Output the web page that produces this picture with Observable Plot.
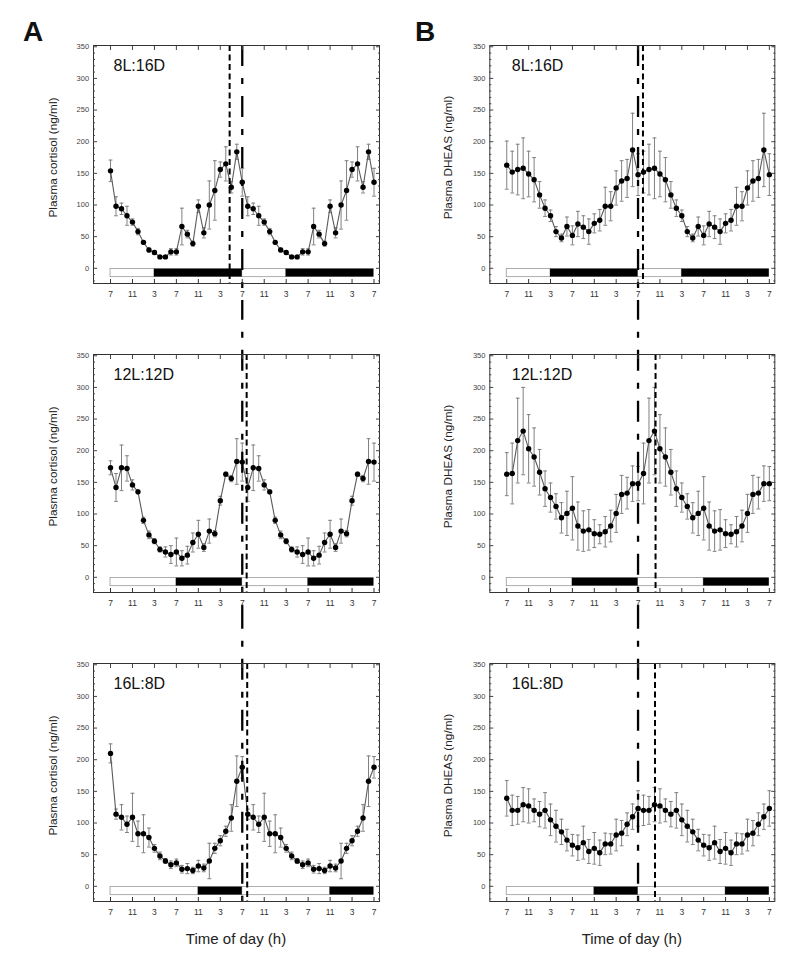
<!DOCTYPE html>
<html>
<head>
<meta charset="utf-8">
<script src="https://cdn.jsdelivr.net/npm/d3@7"></script>
<script src="https://cdn.jsdelivr.net/npm/@observablehq/plot@0.6"></script>
<style>
  body { margin: 0; background: #fff; }
  #wrap { position: relative; width: 800px; height: 971px; font-family: "Liberation Sans", Arial, sans-serif; color: #111; }
  .panel { position: absolute; }
  .big { position: absolute; font-weight: bold; font-size: 28px; line-height: 28px; }
  .xl { position: absolute; font-size: 15px; line-height: 16px; color: #222; transform: translateX(-50%); white-space: nowrap; }
</style>
</head>
<body>
<div id="wrap"></div>
<script>
// ---- data ----
const photoperiods = ["8L:16D", "12L:12D", "16L:8D"];
const lightHours = [8, 12, 16];           // hours of light starting at 07:00
const tickHours = [0, 4, 8, 12, 16, 20, 24, 28, 32, 36, 40, 44, 48];
const tickLabels = ["7", "11", "3", "7", "11", "3", "7", "11", "3", "7", "11", "3", "7"];
const lightsOnHour = 24;                  // long dash-dot line (07:00)

// Cortisol (column A), hours 0..24 from 07:00
const cortisol8 = [154, 98, 94, 83, 73, 58, 41, 29, 25, 18, 18, 26, 26, 66, 54, 39, 98, 56, 100, 123, 156, 165, 128, 184, 136];
const cortisol8Err = [17, 15, 9, 15, 5, 5, 3, 3, 3, 2, 2, 5, 5, 29, 6, 4, 10, 8, 38, 47, 12, 27, 9, 12, 22];
const cortisol12 = [173, 142, 173, 172, 146, 135, 90, 67, 57, 44, 40, 36, 40, 30, 35, 55, 68, 47, 73, 69, 121, 163, 156, 183, 182];
const cortisol12Err = [11, 22, 36, 20, 8, 3, 5, 6, 4, 4, 8, 14, 22, 12, 14, 15, 22, 6, 19, 5, 7, 3, 5, 36, 30];
const cortisol16 = [210, 114, 109, 98, 109, 83, 83, 77, 60, 48, 40, 34, 37, 27, 28, 25, 32, 29, 40, 60, 72, 87, 108, 166, 188];
const cortisol16Err = [15, 8, 20, 13, 38, 20, 30, 15, 6, 6, 4, 6, 6, 6, 8, 5, 9, 6, 28, 8, 8, 8, 21, 40, 17];
const cortisolPeakHour = [21.7, 24.8, 24.9]; // short-dashed lines

// DHEAS (column B)
const dheas8 = [163, 152, 156, 158, 149, 140, 116, 95, 83, 58, 48, 66, 52, 70, 65, 58, 71, 76, 98, 98, 127, 138, 142, 187, 148];
const dheas8Err = [38, 33, 40, 48, 36, 35, 21, 13, 9, 8, 6, 15, 15, 20, 18, 20, 15, 17, 30, 23, 27, 32, 30, 58, 33];
const dheas12 = [163, 164, 216, 231, 203, 190, 166, 140, 126, 112, 94, 101, 109, 81, 73, 75, 69, 68, 72, 81, 101, 131, 133, 148, 148];
const dheas12Err = [34, 48, 67, 69, 54, 46, 36, 28, 23, 20, 24, 35, 50, 38, 32, 32, 22, 15, 24, 25, 30, 30, 25, 28, 27];
const dheas16 = [139, 120, 120, 129, 127, 120, 114, 120, 105, 95, 86, 73, 65, 61, 69, 55, 60, 53, 67, 67, 81, 84, 98, 110, 123];
const dheas16Err = [28, 24, 22, 27, 27, 18, 20, 28, 25, 25, 20, 17, 17, 20, 26, 19, 25, 20, 17, 16, 25, 20, 18, 20, 28];
const dheasPeakHour = [24.9, 27.2, 27.1];

// ---- layout ----
const W = 400, H = 309;
const rowTops = [0, 309, 618];
const yDomain = [-24, 352];
const xDomain = [-3.1, 49];
const barTop = -1, barBottom = -14;

const columns = [
  { left: 0, marginLeft: 93, marginRight: 21, yLabel: "Plasma cortisol (ng/ml)", labelDx: -40.5, nameDx: 20,
    series: [[cortisol8, cortisol8Err], [cortisol12, cortisol12Err], [cortisol16, cortisol16Err]], peaks: cortisolPeakHour, letter: "A", letterX: 23 },
  { left: 400, marginLeft: 89.3, marginRight: 25.7, yLabel: "Plasma DHEAS (ng/ml)", labelDx: -41.6, nameDx: 22,
    series: [[dheas8, dheas8Err], [dheas12, dheas12Err], [dheas16, dheas16Err]], peaks: dheasPeakHour, letter: "B", letterX: 415 }
];

function doublePlot(vals, errs) {
  const rows = vals.map((v, i) => ({ h: i, v, e: errs[i] }));
  for (let i = 1; i < vals.length; i++) rows.push({ h: 24 + i, v: vals[i], e: errs[i] });
  return rows;
}
function lightDark(L) {
  return {
    light: [{ x1: 0, x2: L }, { x1: 24, x2: 24 + L }],
    dark: [{ x1: L, x2: 24 }, { x1: 24 + L, x2: 48 }]
  };
}

const wrap = document.getElementById("wrap");
const fontFamily = "'Liberation Sans', Arial, sans-serif";
const majorY = d3.range(0, 351, 50);
const minorY = d3.range(-20, 351, 10).filter(d => d % 50 !== 0);

columns.forEach(col => {
  photoperiods.forEach((name, row) => {
    const [vals, errs] = col.series[row];
    const data = doublePlot(vals, errs);
    const bars = lightDark(lightHours[row]);
    const capHalf = 0.35;
    const longY1 = row === 0 ? yDomain[1] : 520;
    const longY2 = row === 2 ? yDomain[0] : -160;

    const chart = Plot.plot({
      width: W, height: H,
      marginLeft: col.marginLeft, marginRight: col.marginRight, marginTop: 45, marginBottom: H - 45 - 238,
      style: { fontFamily, background: "#fff" },
      x: { domain: xDomain, axis: null },
      y: { domain: yDomain, axis: null },
      marks: [
        Plot.rect(bars.light, { x1: "x1", x2: "x2", y1: barBottom, y2: barTop, fill: "#fff", stroke: "#999", strokeWidth: 0.8 }),
        Plot.rect(bars.dark, { x1: "x1", x2: "x2", y1: barBottom, y2: barTop, fill: "#000" }),
        Plot.ruleX(data, { x: "h", y1: d => d.v - d.e, y2: d => d.v + d.e, stroke: "#808080", strokeWidth: 1 }),
        Plot.link(data, { x1: d => d.h - capHalf, x2: d => d.h + capHalf, y1: d => d.v + d.e, y2: d => d.v + d.e, stroke: "#808080", strokeWidth: 1 }),
        Plot.link(data, { x1: d => d.h - capHalf, x2: d => d.h + capHalf, y1: d => d.v - d.e, y2: d => d.v - d.e, stroke: "#808080", strokeWidth: 1 }),
        Plot.line(data, { x: "h", y: "v", stroke: "#5a5a5a", strokeWidth: 1.1 }),
        Plot.dot(data, { x: "h", y: "v", r: 2.7, fill: "#000", stroke: "none" }),
        Plot.ruleX([col.peaks[row]], { y1: yDomain[1], y2: yDomain[0], stroke: "#000", strokeWidth: 2, strokeDasharray: "6,3.5" }),
        Plot.ruleX([lightsOnHour], { y1: longY1, y2: longY2, stroke: "#000", strokeWidth: 2.3, strokeDasharray: "21,12,6,12" }),
        Plot.frame({ stroke: "#333", strokeWidth: 1 }),
        Plot.axisY(majorY, { anchor: "left", tickSize: -4, tickPadding: 8.4, fontSize: 7.5, color: "#444", label: null }),
        Plot.axisY(minorY, { anchor: "left", tickSize: -2, tickFormat: () => "", color: "#444", label: null }),
        Plot.axisY(majorY, { anchor: "right", tickSize: -4, tickFormat: () => "", color: "#444", label: null }),
        Plot.axisY(minorY, { anchor: "right", tickSize: -2, tickFormat: () => "", color: "#444", label: null }),
        Plot.axisX(tickHours, { anchor: "bottom", tickSize: -4, tickPadding: 11, fontSize: 8.5, color: "#333",
          tickFormat: d => tickLabels[tickHours.indexOf(d)], label: null }),
        Plot.axisX(tickHours, { anchor: "top", tickSize: -4, tickFormat: () => "", color: "#444", label: null }),
        Plot.text([name], { text: d => d, frameAnchor: "top-left", dx: col.nameDx, dy: 20, textAnchor: "start", lineAnchor: "middle", fontSize: 16, fill: "#111" }),
        Plot.text([col.yLabel], { text: d => d, frameAnchor: "left", y: 175, dx: col.labelDx, rotate: -90, textAnchor: "middle", lineAnchor: "middle", fontSize: 11.8, fill: "#222" })
      ]
    });
    const div = document.createElement("div");
    div.className = "panel";
    div.style.left = col.left + "px";
    div.style.top = rowTops[row] + "px";
    div.appendChild(chart);
    wrap.appendChild(div);
  });

  const letter = document.createElement("div");
  letter.className = "big";
  letter.textContent = col.letter;
  letter.style.left = col.letterX + "px";
  letter.style.top = "18px";
  wrap.appendChild(letter);

  const xl = document.createElement("div");
  xl.className = "xl";
  xl.textContent = "Time of day (h)";
  xl.style.left = (col.left + col.marginLeft + (W - col.marginLeft - col.marginRight) / 2) + "px";
  xl.style.top = "931px";
  wrap.appendChild(xl);
});
</script>
</body>
</html>
